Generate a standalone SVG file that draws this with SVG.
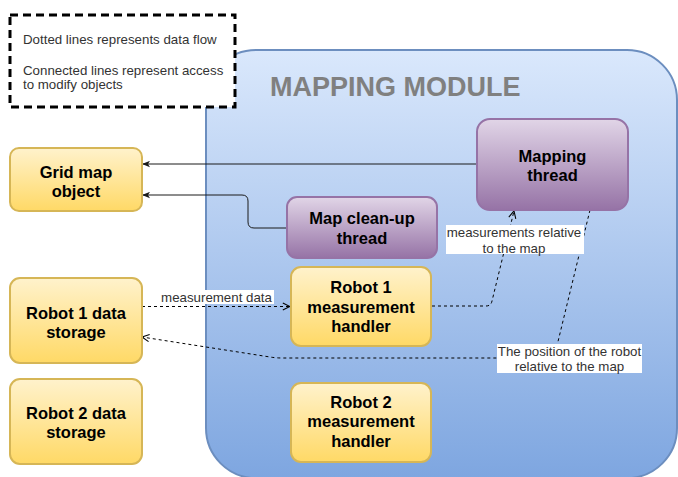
<svg xmlns="http://www.w3.org/2000/svg" width="678" height="477" viewBox="0 0 678 477">
  <defs>
    <linearGradient id="gradBlue" x1="0" y1="0" x2="0" y2="1">
      <stop offset="0" stop-color="#dae8fc"/>
      <stop offset="1" stop-color="#7ea6e0"/>
    </linearGradient>
    <linearGradient id="gradYellow" x1="0" y1="0" x2="0" y2="1">
      <stop offset="0" stop-color="#fff2cc"/>
      <stop offset="1" stop-color="#ffd966"/>
    </linearGradient>
    <linearGradient id="gradPurple" x1="0" y1="0" x2="0" y2="1">
      <stop offset="0" stop-color="#e1d5e7"/>
      <stop offset="1" stop-color="#9673a6"/>
    </linearGradient>
    <marker id="arrowFilled" viewBox="0 0 10 8" refX="10" refY="4" markerWidth="8" markerHeight="7" orient="auto" markerUnits="userSpaceOnUse">
      <path d="M0,0 L10,4 L0,8 L2.5,4 Z" fill="#1a1a1a"/>
    </marker>
    <marker id="arrowOpen" viewBox="0 0 10 10" refX="9" refY="5" markerWidth="9" markerHeight="9" orient="auto" markerUnits="userSpaceOnUse">
      <path d="M1,1 L9,5 L1,9" fill="none" stroke="#000" stroke-width="1.2"/>
    </marker>
  </defs>
  <style>
    .node-y { fill: url(#gradYellow); stroke: #d6b656; stroke-width: 2; }
    .node-p { fill: url(#gradPurple); stroke: #9673a6; stroke-width: 2; }
    .node-text { font-family: "Liberation Sans", Arial, sans-serif; font-size: 16.5px; font-weight: bold; fill: #000; text-anchor: middle; }
    .small { font-family: "Liberation Sans", Arial, sans-serif; font-size: 13.3px; fill: #333; }
    .mid { text-anchor: middle; }
    .solid { fill: none; stroke: #1a1a1a; stroke-width: 1; marker-end: url(#arrowFilled); }
    .dashed { fill: none; stroke: #000; stroke-width: 1; stroke-dasharray: 3 3; marker-end: url(#arrowOpen); }
    .label-bg { fill: #fff; }
  </style>

  <!-- module container -->
  <g id="mapping-module">
    <rect x="206" y="50" width="471" height="428" rx="50" ry="50" fill="url(#gradBlue)" stroke="#6c8ebf" stroke-width="2"/>
    <text x="270" y="96" font-family="'Liberation Sans', Arial, sans-serif" font-size="27" font-weight="bold" fill="#808080">MAPPING MODULE</text>
  </g>

  <!-- legend -->
  <g id="legend">
    <rect x="10" y="15" width="225" height="92" fill="#fff" stroke="#000" stroke-width="3" stroke-dasharray="8 5"/>
    <text class="small" x="23" y="44">Dotted lines represents data flow</text>
    <text class="small" x="23" y="75">Connected lines represent access</text>
    <text class="small" x="23" y="89">to modify objects</text>
  </g>

  <!-- connectors -->
  <g id="connectors">
    <path class="solid" d="M477,164 L142,164"/>
    <path class="solid" d="M287,228 L254,228 Q248,228 248,222 L248,201 Q248,195 242,195 L142,195"/>
    <path class="dashed" d="M142,306.5 L290,306.5"/>
    <path class="dashed" d="M432,306 L486,306 Q491,306 492,301 L514,211"/>
    <path class="dashed" d="M590,210 L554,358 L282,358 Q276,358 270,357 L142,337"/>

    <rect class="label-bg" x="159" y="290" width="115" height="14"/>
    <text class="small mid" x="216.5" y="301.5">measurement data</text>

    <rect class="label-bg" x="446" y="225" width="138" height="29"/>
    <text class="small mid" x="514" y="236.5">measurements relative</text>
    <text class="small mid" x="514" y="252.5">to the map</text>

    <rect class="label-bg" x="497" y="344" width="145" height="29"/>
    <text class="small mid" x="569.5" y="355.5">The position of the robot</text>
    <text class="small mid" x="569.5" y="370.5">relative to the map</text>
  </g>

  <!-- nodes -->
  <g id="grid-map-object">
    <rect class="node-y" x="10" y="148" width="132" height="63" rx="9"/>
    <text class="node-text" x="76" y="178">Grid map</text>
    <text class="node-text" x="76" y="197">object</text>
  </g>

  <g id="mapping-thread">
    <rect class="node-p" x="477" y="119" width="151" height="91" rx="13"/>
    <text class="node-text" x="552.5" y="162">Mapping</text>
    <text class="node-text" x="552.5" y="181">thread</text>
  </g>

  <g id="map-cleanup-thread">
    <rect class="node-p" x="287" y="197" width="150" height="61" rx="10"/>
    <text class="node-text" x="362" y="224">Map clean-up</text>
    <text class="node-text" x="362" y="243.5">thread</text>
  </g>

  <g id="robot1-data-storage">
    <rect class="node-y" x="10" y="278" width="132" height="85" rx="10"/>
    <text class="node-text" x="76" y="318.5">Robot 1 data</text>
    <text class="node-text" x="76" y="338">storage</text>
  </g>

  <g id="robot2-data-storage">
    <rect class="node-y" x="10" y="379" width="132" height="85" rx="10"/>
    <text class="node-text" x="76" y="418.5">Robot 2 data</text>
    <text class="node-text" x="76" y="438">storage</text>
  </g>

  <g id="robot1-measurement-handler">
    <rect class="node-y" x="291" y="267" width="140" height="79" rx="10"/>
    <text class="node-text" x="361" y="293">Robot 1</text>
    <text class="node-text" x="361" y="312.5">measurement</text>
    <text class="node-text" x="361" y="332">handler</text>
  </g>

  <g id="robot2-measurement-handler">
    <rect class="node-y" x="291" y="383" width="140" height="79" rx="10"/>
    <text class="node-text" x="361" y="407.5">Robot 2</text>
    <text class="node-text" x="361" y="427">measurement</text>
    <text class="node-text" x="361" y="446.5">handler</text>
  </g>
</svg>
